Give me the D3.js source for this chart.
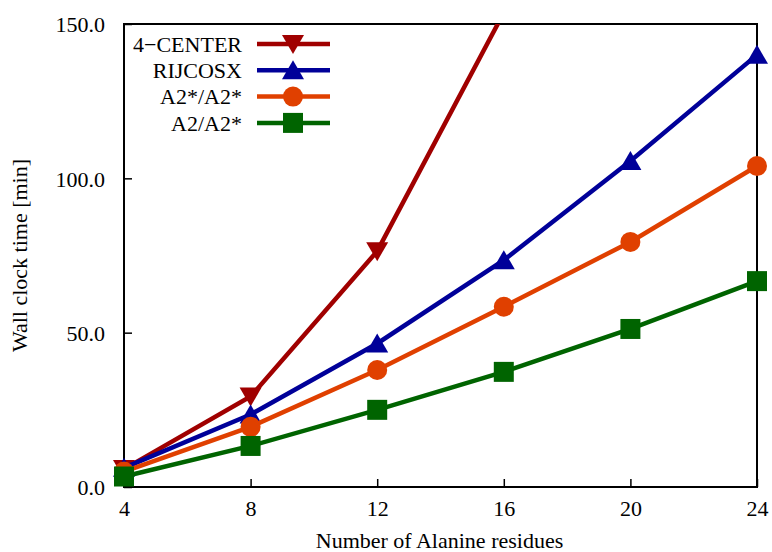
<!DOCTYPE html>
<html>
<head>
<meta charset="utf-8">
<script src="https://cdn.jsdelivr.net/npm/d3@7"></script>
<style>
  body { margin: 0; background: #fff; }
  svg text { font-family: "Liberation Serif", "DejaVu Serif", serif; fill: #000; }
</style>
</head>
<body>
<div id="chart"></div>
<script>
// данные
const residues = [4, 8, 12, 16, 20, 24];
const fourCenter = [5.8, 29.3, 76.4, 153.7, 260, 400];
const rijcosx = [6.2, 23.5, 46.5, 73.5, 105.6, 140.0];
const a2sA2s = [5.0, 19.5, 37.9, 58.4, 79.4, 104.0];
const a2A2s = [3.4, 13.3, 25.0, 37.3, 51.2, 66.7];
const yTicks = [0, 50, 100, 150];

const seriesList = [
    {name: "4\u2212CENTER", data: fourCenter, clr: "#a00000", sym: "tri-down"},
    {name: "RIJCOSX", data: rijcosx, clr: "#000099", sym: "tri-up"},
    {name: "A2*/A2*", data: a2sA2s, clr: "#e04000", sym: "circle"},
    {name: "A2/A2*", data: a2A2s, clr: "#006400", sym: "square"}
];

const W = 772, H = 552;
const margin = {top: 24, right: 15, bottom: 65, left: 124};
const width = W - margin.left - margin.right;
const height = H - margin.top - margin.bottom;
const FS = "22px";

const svg = d3.select("#chart").append("svg")
    .attr("width", W).attr("height", H);
const g = svg.append("g").attr("transform", `translate(${margin.left},${margin.top})`);

const xScale = d3.scaleLinear().domain([4, 24]).range([0, width]);
const yScale = d3.scaleLinear().domain([0, 150]).range([height, 0]);

g.append("clipPath").attr("id", "plotclip")
    .append("rect").attr("x", -14).attr("y", 0).attr("width", width + 28).attr("height", height + 14);

// оси (тики внутрь)
const xAxis = g.append("g").attr("transform", `translate(0,${height})`)
    .call(d3.axisBottom(xScale).tickValues(residues).tickSize(-8).tickPadding(13).tickFormat(d3.format("d")));
const yAxis = g.append("g")
    .call(d3.axisLeft(yScale).tickValues(yTicks).tickSize(-8).tickPadding(19).tickFormat(d3.format(".1f")));
[xAxis, yAxis].forEach(a => {
    a.select(".domain").remove();
    a.selectAll("line").attr("stroke", "#000").attr("stroke-width", 1.5);
    a.selectAll("text").style("font-size", FS);
});
yAxis.selectAll("text").attr("dy", "0.35em");

// рамка
g.append("rect").attr("width", width).attr("height", height)
    .attr("fill", "none").attr("stroke", "#000").attr("stroke-width", 2);

const symbolPath = function(sym) {
    if (sym === "tri-down") return "M-11,-9L11,-9L0,10Z";
    if (sym === "tri-up") return "M-11,9L11,9L0,-10Z";
    if (sym === "square") return "M-10,-10L10,-10L10,10L-10,10Z";
    return d3.symbol().type(d3.symbolCircle).size(Math.PI * 100)();
};

const plot = g.append("g").attr("clip-path", "url(#plotclip)");
const line = d3.line().x(d => xScale(d.x)).y(d => yScale(d.y));

seriesList.forEach(s => {
    const pts = residues.map((x, i) => ({x: x, y: s.data[i]}));
    plot.append("path").datum(pts)
        .attr("d", line).attr("fill", "none")
        .attr("stroke", s.clr).attr("stroke-width", 4.5);
    plot.selectAll(null).data(pts.filter(p => p.y <= 150)).enter()
        .append("path")
        .attr("d", symbolPath(s.sym))
        .attr("transform", p => `translate(${xScale(p.x)},${yScale(p.y)})`)
        .attr("fill", s.clr);
});

// легенда
const legend = g.append("g");
seriesList.forEach((s, i) => {
    const yy = 20 + i * 26.3;
    legend.append("text").attr("x", 118).attr("y", yy).attr("dy", "0.35em")
        .attr("text-anchor", "end").style("font-size", FS).text(s.name);
    legend.append("line").attr("x1", 133).attr("x2", 206).attr("y1", yy).attr("y2", yy)
        .attr("stroke", s.clr).attr("stroke-width", 4.5);
    legend.append("path").attr("d", symbolPath(s.sym))
        .attr("transform", `translate(169,${yy})`).attr("fill", s.clr);
});

// подписи осей
svg.append("text").attr("x", margin.left + width / 2 - 1).attr("y", 548)
    .attr("text-anchor", "middle").style("font-size", FS).text("Number of Alanine residues");
svg.append("text").attr("transform", `translate(27,${margin.top + height / 2}) rotate(-90)`)
    .attr("text-anchor", "middle").style("font-size", FS).text("Wall clock time [min]");
</script>
</body>
</html>
